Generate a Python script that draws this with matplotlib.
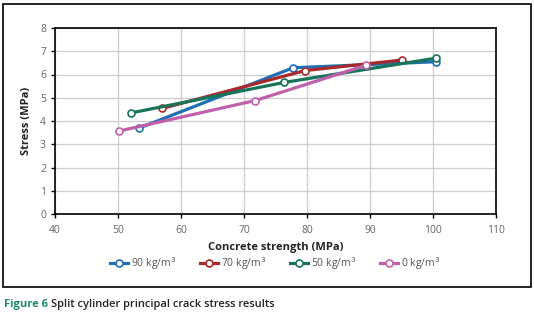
import matplotlib
matplotlib.use("Agg")
import matplotlib.pyplot as plt
from matplotlib.patches import Rectangle

plt.rcParams['font.family'] = ['Open Sans', 'DejaVu Sans']

labels = ['90 kg/m$^3$', '70 kg/m$^3$', '50 kg/m$^3$', '0 kg/m$^3$']
colors = ['#1f6fb4', '#a8292b', '#17745a', '#c060ac']
x90 = [53.4, 77.8, 100.5]
y90 = [3.70, 6.29, 6.55]
x70 = [57.0, 79.7, 95.0]
y70 = [4.54, 6.17, 6.62]
x50 = [52.1, 76.4, 100.4]
y50 = [4.35, 5.66, 6.70]
x0 = [50.2, 71.8, 89.3]
y0 = [3.57, 4.88, 6.39]
xs = [x90, x70, x50, x0]
ys = [y90, y70, y50, y0]

fig = plt.figure(figsize=(5.34, 3.17), dpi=100)
fig.patches.append(Rectangle((3/534, 30/317), 528/534, 283/317, transform=fig.transFigure,
                             fill=False, edgecolor='black', linewidth=1.2))
ax = fig.add_axes([55/534, 103/317, 441/534, 186/317])
for x, y, c, l in zip(xs, ys, colors, labels):
    ax.plot(x, y, color=c, linewidth=2.3, marker='o', markersize=5,
            markerfacecolor='white', markeredgecolor=c, markeredgewidth=1.2, label=l)
ax.set_xlim(40, 110)
ax.set_ylim(0, 8)
ax.set_xticks(range(40, 111, 10))
ax.set_yticks(range(0, 9))
ax.grid(True, color='#cccccc', linewidth=0.9)
ax.set_axisbelow(True)
for s in ax.spines.values():
    s.set_color('black')
    s.set_linewidth(1.2)
ax.tick_params(labelsize=7.5, labelcolor='#666666', color='black', length=3, width=1)
ax.tick_params(axis='x', pad=5)
ax.set_xlabel('Concrete strength (MPa)', fontsize=8, fontweight='bold', labelpad=4, color='#222222')
ax.set_ylabel('Stress (MPa)', fontsize=8, fontweight='bold', labelpad=6, color='#222222')
leg = ax.legend(loc='center', bbox_to_anchor=(0.5, -0.265), ncol=4, frameon=False,
                fontsize=7.5, handlelength=1.7, columnspacing=2.3, handletextpad=0.3)
for t in leg.get_texts():
    t.set_color('#555555')

fig.canvas.draw()
r = fig.canvas.get_renderer()
t1 = fig.text(4/534, 1 - 304/317, 'Figure 6', color='#1f8a6a', fontsize=8,
              fontweight='bold', va='center')
bb = t1.get_window_extent(renderer=r)
fig.text((bb.x1 + 3)/534, 1 - 304/317, 'Split cylinder principal crack stress results',
         color='#222222', fontsize=8, fontweight='semibold', va='center')
fig.savefig('out.png', dpi=100)
